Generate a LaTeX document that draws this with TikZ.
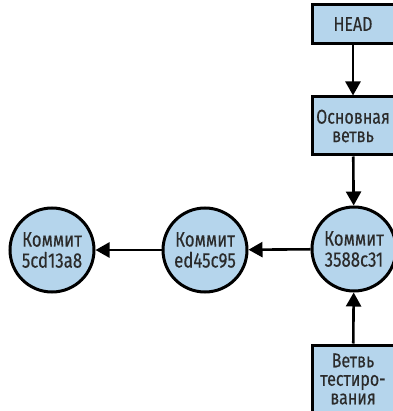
\documentclass[tikz,border=0pt]{standalone}
\usepackage{fontspec}
\setmainfont{Fira Sans}[FakeStretch=0.8,FakeBold=0.25]
\usetikzlibrary{arrows.meta}
\definecolor{nodefill}{HTML}{B5D5EC}
\definecolor{txt}{HTML}{2B2B2B}
\begin{document}
\begin{tikzpicture}[x=1pt,y=-1pt,
  every node/.style={text=txt,align=center,inner sep=0pt},
  refbox/.style={draw=black,line width=3pt,fill=nodefill,minimum width=82pt,
    font=\fontsize{20}{18.5}\selectfont},
  commit/.style={draw=black,line width=3pt,fill=nodefill,circle,minimum size=84pt,
    font=\fontsize{21}{21}\selectfont},
  link/.style={line width=2.6pt,-{Triangle[length=14pt,width=15pt]}}]
\useasboundingbox (0,0) rectangle (392,411);
\node[refbox,minimum height=39pt] (head) at (353,24) {HEAD};
\node[refbox,minimum height=58pt] (main) at (353,126) {Основная\\ветвь};
\node[refbox,minimum height=68pt] (test) at (353,379) {Ветвь\\тестиро-\\вания};
\node[commit] (c3) at (354,249) {Коммит\\3588c31};
\node[commit] (c2) at (205,250) {Коммит\\ed45c95};
\node[commit] (c1) at (52,250) {Коммит\\5cd13a8};
\draw[link] (head) -- (main);
\draw[link] (main) -- (c3);
\draw[link] (test) -- (c3);
\draw[link] (c3) -- (c2);
\draw[link] (c2) -- (c1);
\end{tikzpicture}
\end{document}
